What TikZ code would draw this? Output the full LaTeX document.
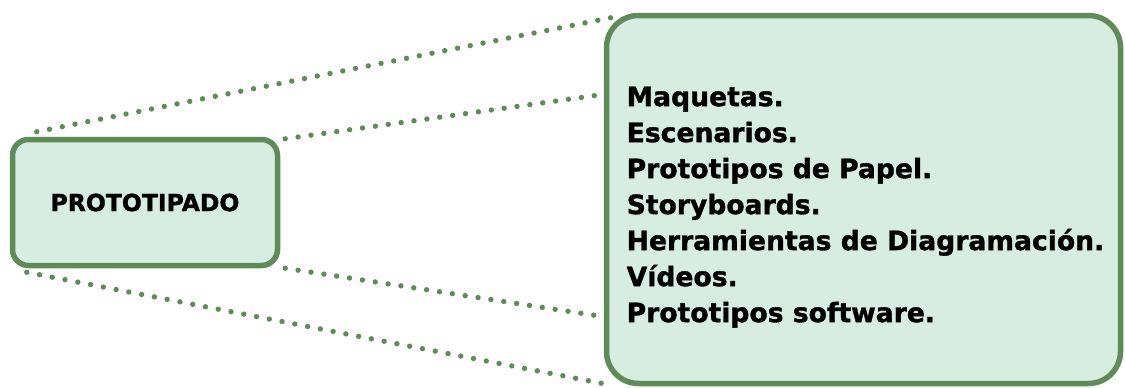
\documentclass[tikz,border=0pt]{standalone}
\usepackage{fontspec}
\setmainfont{DejaVu Sans}
\newfontfamily\heavyfont{DejaVu Sans Bold}[FakeBold=1.3]
\usetikzlibrary{backgrounds}
\definecolor{boxgreen}{RGB}{95,139,88}
\definecolor{boxfill}{RGB}{216,237,225}
\begin{document}
\begin{tikzpicture}[x=1pt,y=-1pt,
  greenbox/.style={draw=boxgreen,fill=boxfill,line width=5.5pt,inner sep=0pt},
  dotline/.style={draw=boxgreen,line width=5.4pt,line cap=round,dash pattern=on 0pt off 13pt}]
\useasboundingbox (0,0) rectangle (1125,388);
\node[greenbox,rounded corners=16pt,minimum width=265pt,minimum height=126pt] (L) at (145,202.5) {};
\node[greenbox,rounded corners=32pt,minimum width=514pt,minimum height=368pt] (R) at (863.5,199.5) {};
\node[font=\heavyfont\fontsize{23.5}{28}\selectfont,inner sep=0pt] (title) at (L.center) {PROTOTIPADO};
\node[anchor=north west,inner sep=0pt,align=left,font=\heavyfont\fontsize{26.6}{36}\selectfont] (items) at (626.5,86.5) {Maquetas.\\Escenarios.\\Prototipos de Papel.\\Storyboards.\\Herramientas de Diagramación.\\Vídeos.\\Prototipos software.};
\begin{scope}[on background layer]
\draw[dotline] ([shift={(27,-5)}]L.north west) -- ([shift={(7,5)}]R.north west);
\draw[dotline] ([shift={(5,2)}]L.north east) -- ([shift={(-3,82)}]R.north west);
\draw[dotline] ([shift={(5,0)}]L.south east) -- ([shift={(-3,-70)}]R.south west);
\draw[dotline] ([shift={(17,4)}]L.south west) -- ([shift={(3,-2)}]R.south west);
\end{scope}
\end{tikzpicture}
\end{document}
